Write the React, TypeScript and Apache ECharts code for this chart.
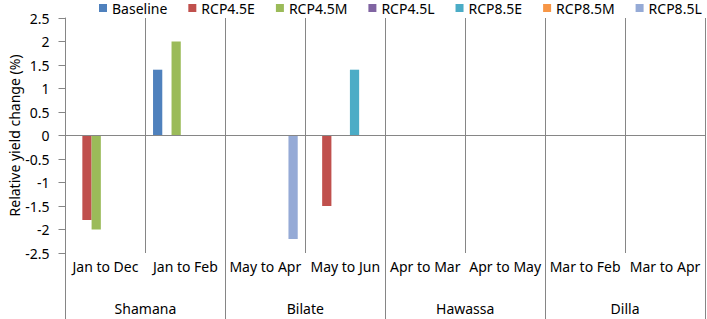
import React, { useEffect, useRef } from "react";
import * as echarts from "echarts";

const periods = ["Jan to Dec", "Jan to Feb", "May to Apr", "May to Jun", "Apr to Mar", "Apr to May", "Mar to Feb", "Mar to Apr"];
const sites = ["Shamana", "Bilate", "Hawassa", "Dilla"];
const seriesNames = ["Baseline", "RCP4.5E", "RCP4.5M", "RCP4.5L", "RCP8.5E", "RCP8.5M", "RCP8.5L"];
const seriesColors = ["#4F81BD", "#C0504D", "#9BBB59", "#8064A2", "#4BACC6", "#F79646", "#95AAD6"];

const baseline = [null, 1.4, null, null, null, null, null, null];
const rcp45E = [-1.8, null, null, -1.5, null, null, null, null];
const rcp45M = [-2.0, 2.0, null, null, null, null, null, null];
const rcp45L = [null, null, null, null, null, null, null, null];
const rcp85E = [null, null, null, 1.4, null, null, null, null];
const rcp85M = [null, null, null, null, null, null, null, null];
const rcp85L = [null, null, -2.2, null, null, null, null, null];

const seriesValues = [baseline, rcp45E, rcp45M, rcp45L, rcp85E, rcp85M, rcp85L];

const FONT = "Noto Sans";
const GREY = "#868686";

export default function App() {
  const ref = useRef<HTMLDivElement>(null);
  useEffect(() => {
    if (!ref.current) return;
    const chart = echarts.init(ref.current, null, { renderer: "svg" });
    chart.setOption({
      animation: false,
      textStyle: { fontFamily: FONT },
      legend: {
        top: 0,
        left: 99,
        padding: [1, 0, 0, 0],
        itemWidth: 8,
        itemHeight: 8,
        itemGap: 21,
        icon: "rect",
        textStyle: { fontFamily: FONT, fontSize: 14, lineHeight: 14, color: "#000" },
        data: seriesNames,
      },
      grid: { left: 65.5, right: 2, top: 18, bottom: 66, containLabel: false, outerBoundsMode: "none" },
      xAxis: [
        {
          type: "category",
          data: periods,
          position: "bottom",
          axisLine: { show: false },
          axisTick: { show: true, interval: 0, length: 34, lineStyle: { color: GREY } },
          axisLabel: { interval: 0, margin: 6, fontFamily: FONT, fontSize: 14, color: "#000" },
          splitLine: { show: true, interval: 0, lineStyle: { color: GREY, width: 1 } },
        },
        {
          type: "category",
          data: sites,
          position: "bottom",
          axisLine: { show: false },
          axisTick: { show: true, interval: 0, length: 66, lineStyle: { color: GREY } },
          axisLabel: { interval: 0, margin: 48, fontFamily: FONT, fontSize: 14, color: "#000" },
          splitLine: { show: false },
        },
      ],
      yAxis: {
        type: "value",
        min: -2.5,
        max: 2.5,
        interval: 0.5,
        name: "Relative yield change (%)",
        nameLocation: "middle",
        nameGap: 44,
        nameMoveOverlap: false,
        nameTextStyle: { fontFamily: FONT, fontSize: 14, color: "#000" },
        axisLine: { show: true, lineStyle: { color: GREY } },
        axisTick: { show: true, length: 7, lineStyle: { color: GREY } },
        axisLabel: { margin: 16, fontFamily: FONT, fontSize: 14, color: "#000" },
        splitLine: { show: false },
      },
      series: seriesNames.map((name, i) => ({
        name,
        type: "bar",
        xAxisIndex: 0,
        data: seriesValues[i],
        barGap: "0%",
        barCategoryGap: "19%",
        itemStyle: { color: seriesColors[i] },
        ...(i === 0
          ? {
              markLine: {
                silent: true,
                symbol: "none",
                label: { show: false },
                lineStyle: { color: GREY, width: 1, type: "solid" },
                data: [{ yAxis: 0 }],
              },
            }
          : {}),
      })),
    });
    return () => chart.dispose();
  }, []);
  return <div ref={ref} style={{ width: 707, height: 319, position: "absolute", left: 0, top: 0 }} />;
}
